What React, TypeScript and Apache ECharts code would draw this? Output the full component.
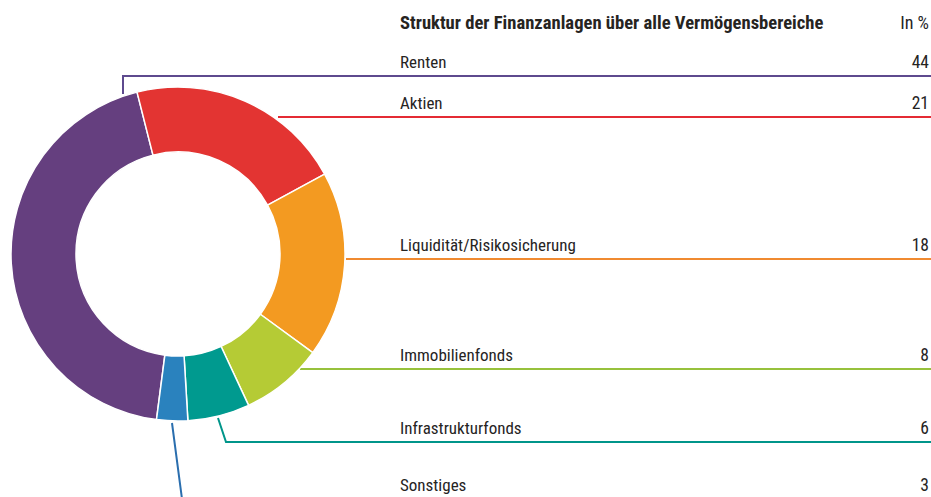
import React, { useEffect, useRef } from "react";
import * as echarts from "echarts";

const categories = [
  "Renten",
  "Aktien",
  "Liquidität/Risikosicherung",
  "Immobilienfonds",
  "Infrastrukturfonds",
  "Sonstiges",
];
const values = [44, 21, 18, 8, 6, 3];
const sliceColors = ["#653F7F", "#E33432", "#F39A21", "#B5CB35", "#009A8F", "#2A82BE"];
const lineColors = ["#5E4A8E", "#E42B34", "#F08A30", "#97C13C", "#00958A", "#2A6EAE"];
const title = "Struktur der Finanzanlagen über alle Vermögensbereiche";
const unitLabel = "In %";

// layout constants (label rows and leader line routing)
const labelLineY = [76, 117, 259, 369, 442, 499];
const leaderStart: number[][] = [
  [123, 94],
  [278, 117],
  [346, 259],
  [300, 369],
  [218, 418],
  [172, 423],
];
const leaderBend: number[][] = [
  [123, 76],
  [600, 117],
  [600, 259],
  [600, 369],
  [226, 442],
  [182, 499],
];

const FONT = "'Roboto Condensed', 'Open Sans Condensed', 'DejaVu Sans Condensed', sans-serif";
const TEXT = "#26241F";

export default function App() {
  const ref = useRef<HTMLDivElement>(null);
  useEffect(() => {
    if (!ref.current) return;
    const chart = echarts.init(ref.current, undefined, { renderer: "svg" });
    chart.setOption({
      animation: false,
      backgroundColor: "#ffffff",
      graphic: [
        {
          type: "text",
          left: 400,
          top: 13,
          style: { text: title, fontFamily: FONT, fontSize: 18.6, fontWeight: "bold", fill: TEXT },
        },
        {
          type: "text",
          right: 2,
          top: 13,
          style: { text: unitLabel, fontFamily: FONT, fontSize: 18, fill: TEXT, align: "right" },
        },
      ],
      series: [
        {
          type: "pie",
          center: [178, 254],
          radius: [102, 167],
          startAngle: 262.6,
          clockwise: true,
          avoidLabelOverlap: false,
          itemStyle: { borderColor: "#ffffff", borderWidth: 1.5 },
          data: categories.map((name, i) => ({
            name,
            value: values[i],
            itemStyle: { color: sliceColors[i] },
            labelLine: { lineStyle: { color: lineColors[i], width: 2 } },
          })),
          label: {
            show: true,
            position: "outside",
            formatter: "{n|{b}}{v|{c}}",
            rich: {
              n: { fontFamily: FONT, fontSize: 17, color: TEXT, width: 489, align: "left" },
              v: { fontFamily: FONT, fontSize: 17.5, color: TEXT, width: 40, align: "right" },
            },
          },
          labelLine: { show: true, length: 10, length2: 10, smooth: false },
          labelLayout: (params: any) => {
            const i = params.dataIndex;
            const y = labelLineY[i];
            return {
              x: 400,
              y: y - 5.5,
              align: "left",
              verticalAlign: "bottom",
              labelLinePoints: [leaderStart[i], leaderBend[i], [931, y]],
            };
          },
        },
      ],
    });
    return () => chart.dispose();
  }, []);
  return (
    <div
      ref={ref}
      style={{ position: "fixed", left: 0, top: 0, width: 931, height: 497 }}
    />
  );
}
